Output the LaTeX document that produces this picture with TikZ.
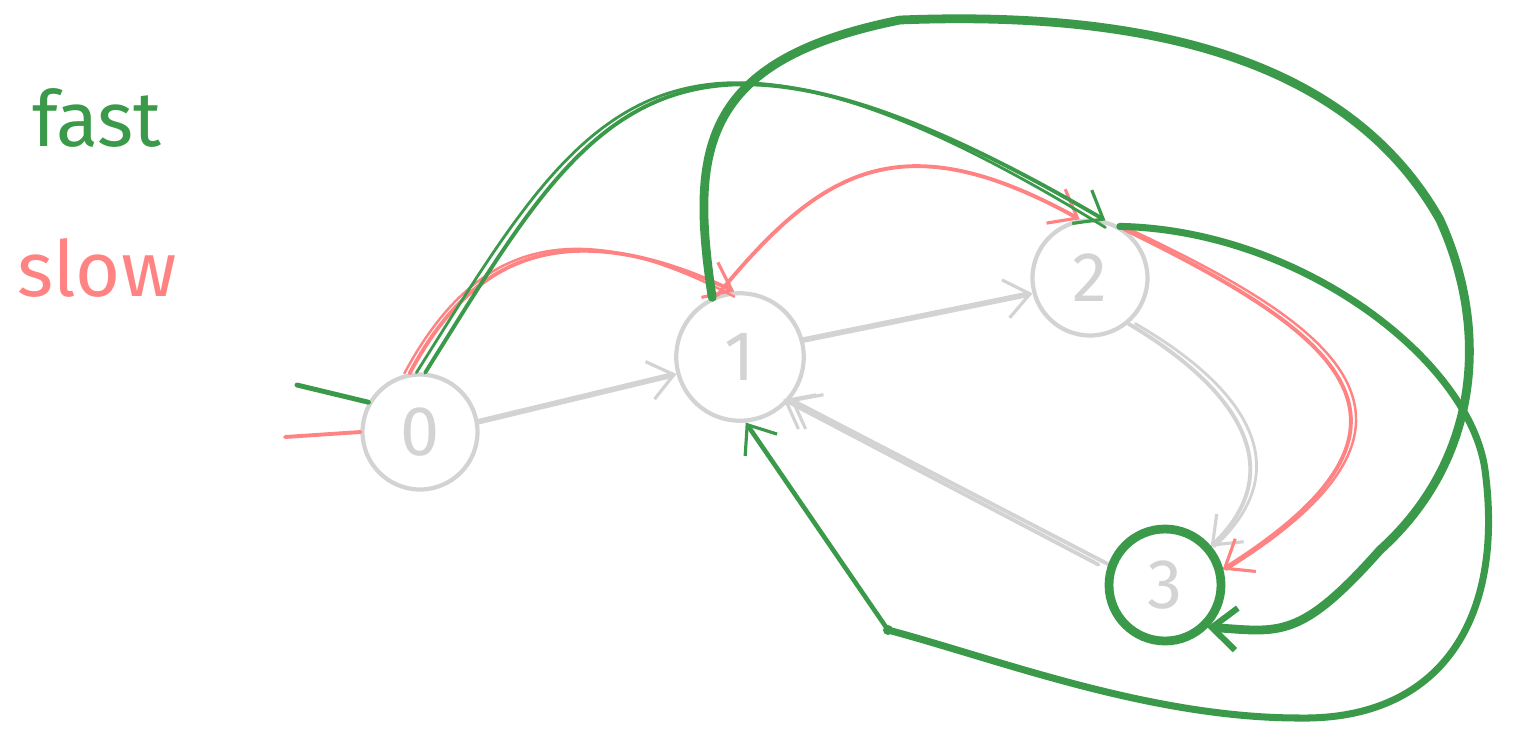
\documentclass[tikz,border=0pt]{standalone}
\usepackage{fontspec}
\setmainfont{Fira Sans}
\usetikzlibrary{arrows.meta}
\definecolor{gr}{HTML}{3A9A4A}
\definecolor{rd}{HTML}{FF8383}
\definecolor{gy}{HTML}{D3D3D3}
\begin{document}
\begin{tikzpicture}[x=0.02cm,y=-0.02cm,line cap=round,line join=round,
  st/.style={draw=gy,line width=2.4pt,circle,minimum size=2.3cm,text=gy,font=\fontsize{40}{40}\selectfont},
  ar/.style={-{Straight Barb[length=14pt,width=22pt,line width=1.8pt]}},
  gyl/.style={draw=gy,line width=2.2pt,ar},
  rdl/.style={draw=rd,line width=2.2pt,ar},
  grl/.style={draw=gr,line width=2.2pt,ar},
  grk/.style={draw=gr,line width=5pt,-{Straight Barb[length=14pt,width=24pt,line width=3.5pt]}}]
\useasboundingbox (0,0) rectangle (1517,748);
\node[text=gr,font=\fontsize{44}{44}\selectfont] (fast) at (97,118) {fast};
\node[text=rd,font=\fontsize{44}{44}\selectfont] (slow) at (97,268) {slow};
\node[st] (n0) at (420,432) {0};
\node[st,minimum size=2.55cm] (n1) at (740,357) {1};
\node[st] (n2) at (1090,278) {2};
\node[st] (n3) at (1165,585) {3};
% start lines
\coordinate (g0) at (297,385); \coordinate (r0) at (285,437);
\draw[gr,line width=2.8pt] (g0) -- (n0.150);
\draw[rd,line width=2.2pt] (r0) -- (n0.180);
% gray
\draw[gyl,line width=3.2pt] (n0.10) -- (n1.195);
\draw[gyl,line width=3.2pt] (n1.15) -- (n2.195);
\draw[gyl] (n3.160) -- (n1.-40);
\draw[gyl] ([xshift=-6pt]n3.160) -- ([xshift=-4pt]n1.-40);
\draw[gyl] (n2.-50) .. controls (1240,390) and (1290,470) .. (n3.40);
\draw[gy,line width=1.6pt] ([xshift=4pt]n2.-50) .. controls (1250,390) and (1298,470) .. ([xshift=2pt]n3.40);
% red
\draw[rdl] (n0.100) .. controls (470,260) and (560,210) .. (n1.95);
\draw[rd,line width=1.4pt] ([xshift=-3pt]n0.100) .. controls (468,255) and (560,204) .. ([yshift=-3pt]n1.95);
\draw[rdl] (n1.110) .. controls (820,170) and (900,120) .. (n2.100);
\draw[rdl] (n2.55) .. controls (1330,330) and (1460,420) .. (n3.15);
\draw[rd,line width=1.4pt] ([xshift=3pt]n2.55) .. controls (1335,326) and (1468,420) .. ([xshift=2pt]n3.15);
% green thin 0->2
\draw[grl] (n0.85) .. controls (590,110) and (660,-40) .. (n2.75);
\draw[gr,line width=1.6pt] ([xshift=-5pt]n0.85) .. controls (585,105) and (660,-46) .. ([yshift=-4pt]n2.75);
% green thick 1->3 around top
\draw[grk] (n1.115) .. controls (690,150) and (700,60) .. (900,20)
  .. controls (1150,10) and (1350,60) .. (1440,220)
  .. controls (1490,330) and (1480,460) .. (1380,550)
  .. controls (1300,640) and (1280,632) .. (n3.-45);
% green thick 2->1 around bottom
\coordinate (bd) at (888,630);
\draw[gr,line width=4pt] (n2.60) .. controls (1300,230) and (1470,360) .. (1485,470)
  .. controls (1505,620) and (1440,720) .. (1300,718)
  .. controls (1150,718) and (1000,660) .. (bd);
\fill[gr] (bd) circle (5);
\draw[grl,line width=2.6pt] (bd) -- (n1.-85);
% self loop
\draw[gr,line width=5pt] (n3) circle (56);
\end{tikzpicture}
\end{document}
